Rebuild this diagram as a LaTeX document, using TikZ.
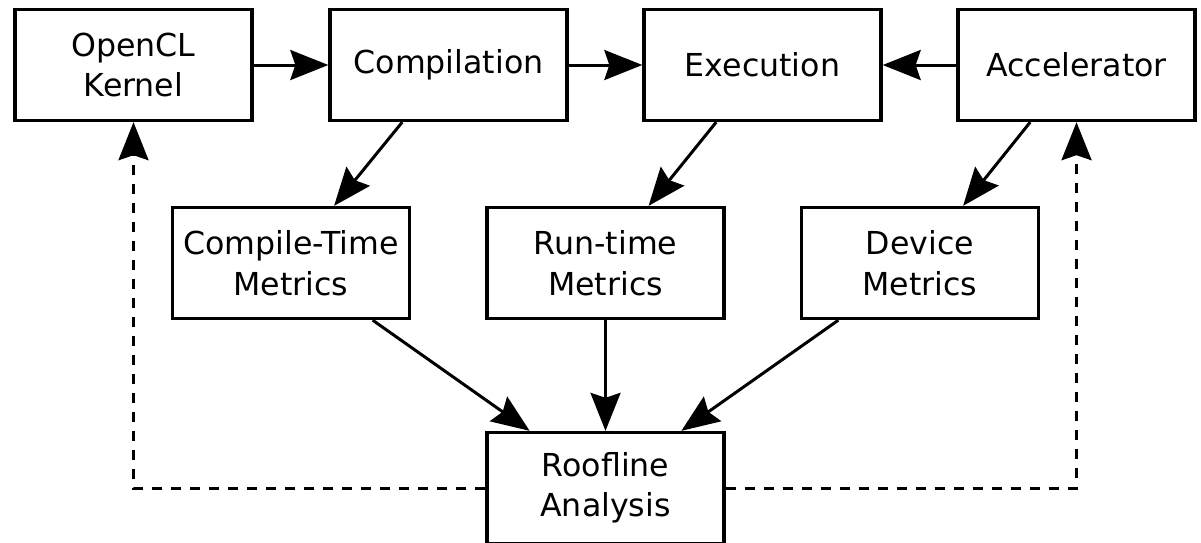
\documentclass[tikz,border=0pt]{standalone}
\usepackage{fontspec}
\setsansfont{DejaVu Sans}
\usetikzlibrary{arrows.meta,calc}

\begin{document}
\begin{tikzpicture}[>={Stealth[length=0.76cm,width=0.6cm,inset=0.1cm]}]
      \tikzset{
	  stage/.style={draw, line width=1.9pt, inner sep=0pt, minimum width=4.74cm, minimum height=2.22cm, align=center, font=\sffamily\fontsize{18}{23}\selectfont},
	  flow/.style={->, line width=1.7pt},
	  feedback/.style={->, line width=1.7pt, dash pattern=on 0.2cm off 0.18cm},
      }
      \useasboundingbox (0, 0) rectangle (24.02, -10.84);

      % top row: kernel, compiler, run, device
      \node (kernel) at (2.67, -1.30) [stage] {OpenCL\\Kernel};
      \node (compile) at (8.97, -1.30) [stage] {Compilation};
      \node (exec) at (15.25, -1.30) [stage] {Execution};
      \node (accel) at (21.53, -1.30) [stage] {Accelerator};

      % collected metrics
      \node (ctm) at (5.82, -5.26) [stage] {Compile-Time\\Metrics};
      \node (rtm) at (12.11, -5.26) [stage] {Run-time\\Metrics};
      \node (dev) at (18.40, -5.26) [stage] {Device\\Metrics};

      \node (roof) at (12.11, -9.76) [stage] {Roofline\\Analysis};

      \draw [flow] (kernel) -- (compile);
      \draw [flow] (compile) -- (exec);
      \draw [flow] (accel) -- (exec);

      \draw [flow] (compile.231) -- (ctm.53);
      \draw [flow] (exec.231) -- (rtm.53);
      \draw [flow] (accel.231) -- (dev.53);

      \draw [flow] (ctm.-35) -- (roof.143);
      \draw [flow] (rtm) -- (roof);
      \draw [flow] (dev.215) -- (roof.37);

      % results fed back
      \draw [feedback] (roof.west) -| (kernel.south);
      \draw [feedback] (roof.east) -| (accel.south);
    \end{tikzpicture}
\end{document}
